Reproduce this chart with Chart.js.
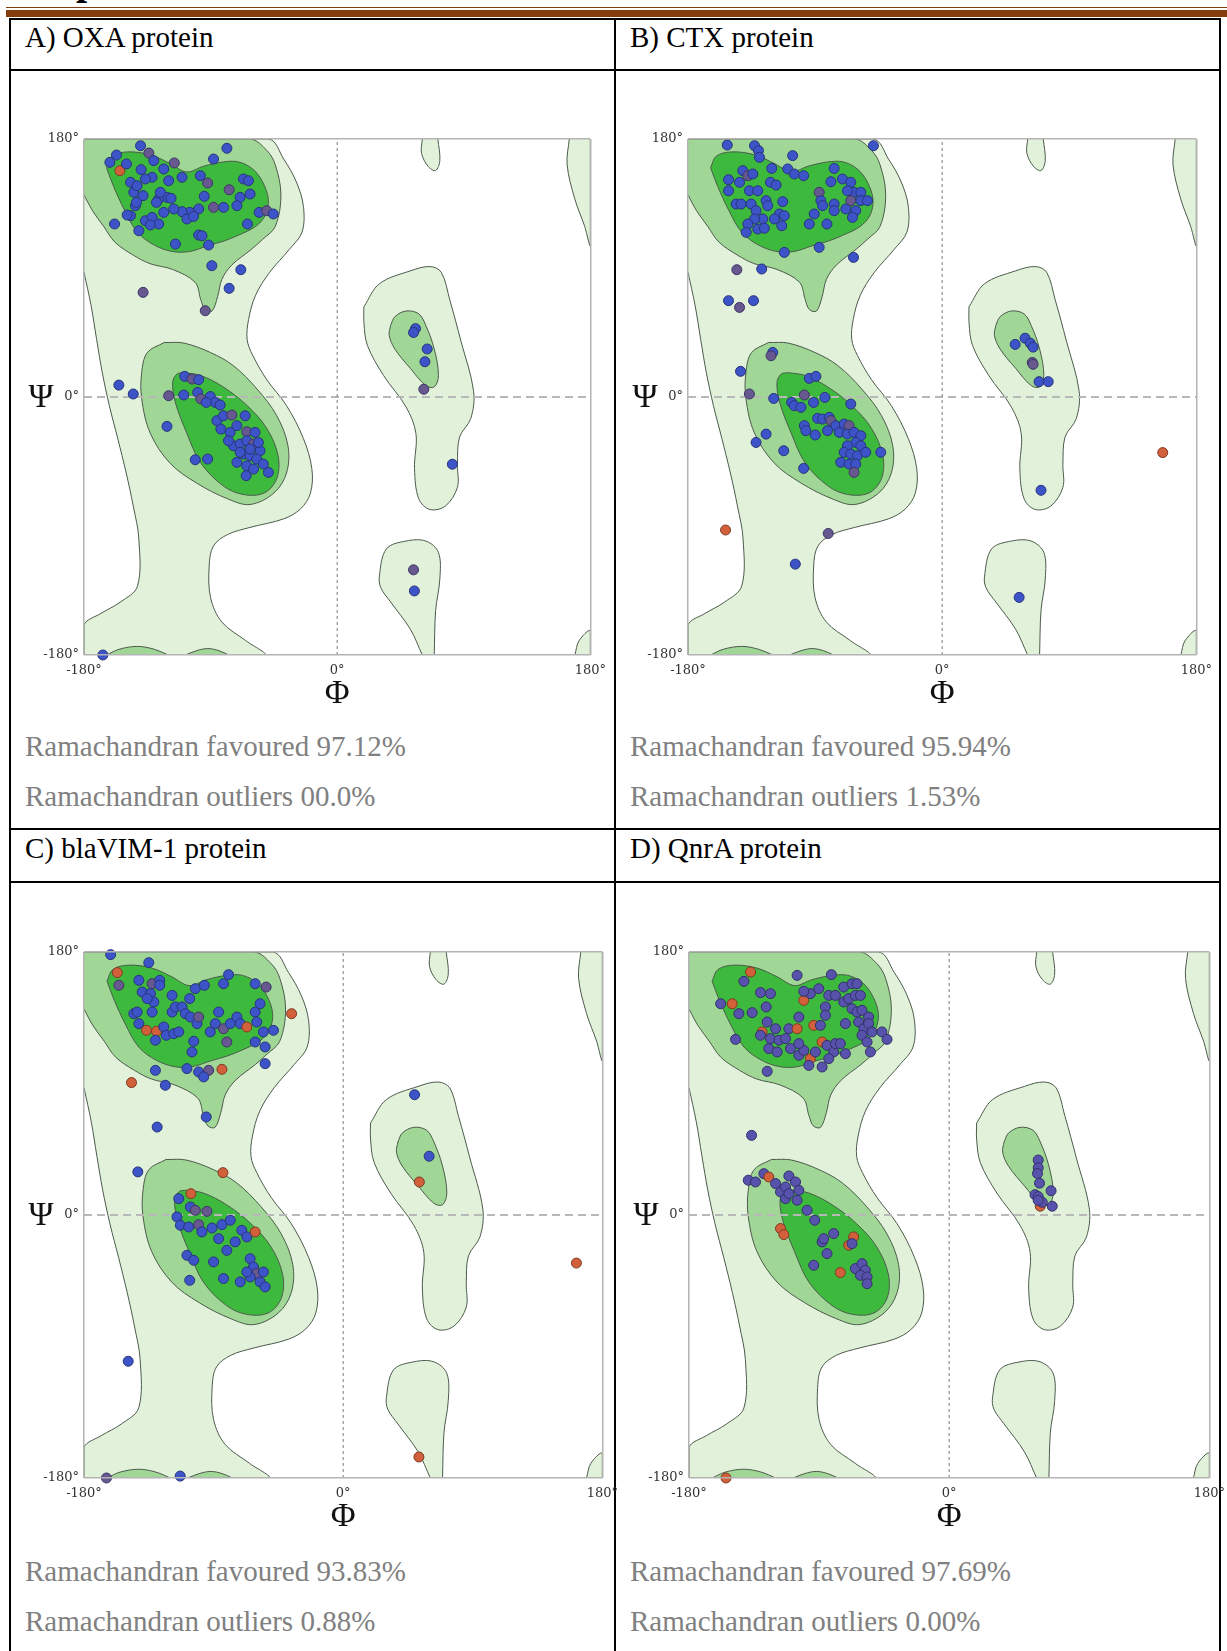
<!DOCTYPE html>
<html>
<head>
<meta charset="utf-8">
<script src="https://cdn.jsdelivr.net/npm/chart.js@4.4.1/dist/chart.umd.min.js"></script>
<style>
  html, body { margin: 0; padding: 0; background: #fff; overflow: hidden; }
  body { width: 1227px; height: 1651px; position: relative; font-family: "Liberation Serif", "Times New Roman", serif; }
  .rule { position: absolute; background: #843c0c; }
  .ln { position: absolute; background: #000; }
  .txt { position: absolute; font-size: 29px; line-height: 29px; white-space: nowrap; color: #000; }
  .stat { color: #808080; }
  .cut { position: absolute; left: 76px; top: -39px; font-size: 40px; line-height: 40px; font-weight: bold; }
  canvas { position: absolute; }
</style>
</head>
<body>
<!-- bottom of the heading above the table, cut off by the page edge -->
<div class="cut">p</div>
<!-- page rules + table grid -->
<div class="rule" style="left:6px;top:7px;width:1221px;height:1px"></div>
<div class="rule" style="left:6px;top:10px;width:1221px;height:7px"></div>
<div class="ln" style="left:9px;top:18px;width:1212px;height:2px"></div>
<div class="ln" style="left:9px;top:69px;width:1212px;height:2px"></div>
<div class="ln" style="left:9px;top:828px;width:1212px;height:2px"></div>
<div class="ln" style="left:9px;top:881px;width:1212px;height:2px"></div>
<div class="ln" style="left:9px;top:18px;width:2px;height:1633px"></div>
<div class="ln" style="left:614px;top:18px;width:2px;height:1633px"></div>
<div class="ln" style="left:1219px;top:18px;width:2px;height:1633px"></div>

<div class="txt" style="left:25px;top:23px">A) OXA protein</div>
<div class="txt" style="left:630px;top:23px">B) CTX protein</div>
<div class="txt stat" style="left:25px;top:732px">Ramachandran favoured 97.12%</div>
<div class="txt stat" style="left:25px;top:782px">Ramachandran outliers 00.0%</div>
<div class="txt stat" style="left:630px;top:732px">Ramachandran favoured 95.94%</div>
<div class="txt stat" style="left:630px;top:782px">Ramachandran outliers 1.53%</div>

<div class="txt" style="left:25px;top:834px">C) blaVIM-1 protein</div>
<div class="txt" style="left:630px;top:834px">D) QnrA protein</div>
<div class="txt stat" style="left:25px;top:1557px">Ramachandran favoured 93.83%</div>
<div class="txt stat" style="left:25px;top:1607px">Ramachandran outliers 0.88%</div>
<div class="txt stat" style="left:630px;top:1557px">Ramachandran favoured 97.69%</div>
<div class="txt stat" style="left:630px;top:1607px">Ramachandran outliers 0.00%</div>

<canvas id="oxa"></canvas>
<canvas id="ctx"></canvas>
<canvas id="vim"></canvas>
<canvas id="qnr"></canvas>

<script>
// ---- axis ticks ----
const TICKS = [-180, 0, 180];
const TICK_LABELS = ['-180°', '0°', '180°'];

// ---- Ramachandran contour outlines, [phi, psi] ----
const outerGeneral = [[-180,180],[-49,180],[-38,166],[-29,150],[-24,133],[-25,115],[-34,103],[-48,87],[-58,71],[-63,54],[-64,40],[-60,29],[-50,12],[-36,-6],[-24,-29],[-18,-50],[-19,-67],[-26,-78],[-38,-85],[-62,-91],[-78,-96],[-88,-104],[-91,-118],[-90,-140],[-82,-157],[-65,-170],[-52,-180],[-180,-180],[-180,-159],[-168,-151],[-154,-143],[-142,-132],[-141,-99],[-145,-76],[-150,-53],[-156,-29],[-162,-6],[-167,17],[-171,40],[-175,64],[-180,87]];
const outerLeftHanded = [[19,63],[30,79],[52,88],[66,91],[74,87],[80,68],[88,39],[97,4],[95,-15],[87,-28],[85.5,-47],[85.5,-63],[77,-76],[66,-78.5],[58,-71],[55,-50],[56,-25.5],[49,-7],[33,15],[21.5,36],[19,52],[19,63]];
const outerLowIsland = [[60.5,-180],[52,-162],[38,-143],[31,-133],[30,-125],[35,-106],[49,-100.5],[63,-100.5],[72,-108.5],[73,-127],[70,-149],[69,-180]];
const outerTopIsland = [[60.5,180],[60,170],[64.6,161],[70,158],[73,165],[71.6,180]];
const outerTopRight = [[165,180],[163.5,162],[169,138],[176,119],[180,106],[180,180]];
const outerBottomRight = [[169,-180],[172,-170],[180,-163],[180,-180]];

const allowedBeta = [[-180,180],[-62,180],[-50,172],[-44,162],[-40,141],[-44,119],[-53,110],[-61,103],[-75,92],[-82,82],[-85,70],[-89,60],[-94,61],[-97,68],[-101,80],[-117,89],[-133,93],[-145,99],[-158,108],[-166,119],[-174,130],[-180,141]];
const allowedBetaWrapA = [[-164,-180],[-155,-176],[-142,-174],[-130,-176],[-120,-180]];
const allowedBetaWrapB = [[-108,-180],[-100,-177],[-92,-175.5],[-84,-177],[-77,-180]];
const allowedAlpha = [[-123,38],[-109,37.6],[-90,31],[-74,22],[-57,5.6],[-43,-13],[-35,-34],[-36,-53],[-45,-67],[-62,-75],[-78,-71],[-100,-60],[-119,-46],[-133,-25],[-139,-1],[-139,17],[-135,31],[-123,38]];
const allowedLeftHanded = [[38,50],[41,56],[49,60],[58,58],[63,50],[69,33.5],[72,15],[69,7],[63,8],[52,20],[41,33.5],[37,43],[38,50]];

const favouredBeta = [[-164,160],[-160,168],[-149,171],[-133,169],[-119,163],[-107,157],[-95,161],[-81,164],[-70,164],[-60,159],[-53,150],[-49,138],[-51,127],[-58,119],[-70,113],[-80,109],[-92,105.5],[-105,101.5],[-117,101.5],[-130,106],[-142,115],[-151,130],[-159,147],[-164,160]];
const favouredAlpha = [[-109,17],[-97,15],[-81,7],[-64,-6],[-50,-22],[-42,-41],[-43,-57],[-52,-67],[-67,-68],[-81,-62],[-97,-46],[-107,-25],[-115,-4],[-117,10],[-114,16],[-109,17]];

// ---- residues per protein: [phi, psi, kind] ----
const oxaResidues = [
  [-139.8,175.3,'b'],[-133.9,170.2,'p'],[-156.9,168.8,'b'],[-161.6,163.7,'b'],[-154.5,157.9,'r'],[-149.8,162.6,'b'],[-130.4,164.9,'b'],[-123.3,159.1,'b'],[-115.8,163.3,'p'],[-139.4,158.6,'b'],
  [-131.6,153.3,'b'],[-119.8,150.9,'b'],[-110.3,153.3,'b'],[-97.3,154.4,'b'],[-92.1,149.3,'p'],[-78.4,173.5,'b'],[-87.9,166,'b'],[-66.6,152.1,'b'],[-63.1,150.9,'b'],[-76.8,144.6,'p'],
  [-61.9,141.6,'b'],[-69,139.3,'b'],[-55.5,128.8,'b'],[-50.1,130,'p'],[-45.4,127.7,'b'],[-63.8,120.7,'b'],[-71.3,133.5,'b'],[-80.8,132.3,'b'],[-87.9,132.3,'p'],[-94.5,140,'b'],
  [-98.5,131.2,'b'],[-104.9,128.8,'b'],[-110.3,129.3,'b'],[-116.2,131.2,'b'],[-121,139.3,'b'],[-118.1,138.6,'b'],[-126.9,138.1,'b'],[-128.5,135.8,'b'],[-123.3,128.8,'b'],[-126.9,120.7,'b'],
  [-136.3,123,'b'],[-141,116,'b'],[-146.9,126.5,'b'],[-149.3,127,'b'],[-143.4,133.5,'b'],[-142.7,135.8,'b'],[-138,140.5,'b'],[-144.6,142.8,'b'],[-146.9,149.8,'b'],[-142.2,147.4,'b'],
  [-136.3,152.1,'b'],[-158.3,120.7,'b'],[-115,106.7,'b'],[-98.5,113,'b'],[-96.1,112.5,'b'],[-91.4,106,'b'],[-106.8,124.2,'b'],[-102.1,126,'b'],[-131.6,125.3,'b'],[-132.8,120,'b'],
  [-125.7,142.8,'b'],[-89.1,91.6,'b'],[-68.5,88.8,'b'],[-76.8,75.8,'b'],[-138,73,'p'],[-93.8,60.2,'p'],
  [-108.4,14.4,'b'],[-103.2,12.5,'p'],[-98.5,12.1,'b'],[-99.2,3.2,'b'],[-109.1,1.4,'b'],[-119.8,0.9,'p'],[-145,2.1,'b'],[-155.2,8.3,'b'],[-121,-20.5,'b'],[-90.2,0.3,'b'],
  [-86.7,-3.8,'b'],[-83.2,-5.6,'b'],[-96.9,-1.4,'p'],[-93.1,-3.8,'b'],[-85.5,-16.5,'b'],[-80.8,-13.1,'b'],[-74.9,-12.6,'p'],[-65.4,-13.1,'b'],[-82.7,-22.4,'b'],[-76.1,-24.7,'b'],
  [-71.3,-20,'b'],[-64.3,-24.2,'p'],[-58.4,-24.7,'b'],[-73.7,-34,'b'],[-69,-32.8,'b'],[-64.3,-30.5,'b'],[-59.5,-32.8,'p'],[-54.8,-37.5,'b'],[-66.6,-39.8,'b'],[-61.9,-41,'b'],
  [-57.2,-43.3,'b'],[-71.3,-45.6,'b'],[-64.3,-48,'b'],[-59.5,-50.3,'b'],[-64.7,-54.9,'b'],[-48.9,-52.6,'b'],[-52.5,-46.8,'b'],[-100.9,-43.8,'b'],[-92.1,-43.3,'b'],[-77.3,-30.5,'b'],
  [-69,-38.6,'b'],[-61.9,-36.3,'b'],[-56,-31.7,'b'],
  [55.7,47.7,'b'],[54.3,45,'b'],[64,33.5,'b'],[62.4,24.6,'b'],[61.6,5.4,'p'],[81.9,-46.9,'b'],[54.3,-120.6,'p'],[54.9,-135.3,'b'],[-166.6,-180,'b']
];

const ctxResidues = [
  [-152.2,175.8,'b'],[-132.9,175.3,'b'],[-130.1,171.9,'b'],[-129.4,167.2,'b'],[-105.9,168.4,'b'],[-48.7,175.3,'b'],[-141.2,157.9,'b'],[-137.6,154.4,'p'],[-134.1,155.6,'b'],[-151.3,151.6,'b'],
  [-143.5,149.8,'b'],[-151.3,143.9,'b'],[-136.5,143.9,'b'],[-130.6,143.9,'b'],[-120.7,159.5,'b'],[-121.6,149.8,'b'],[-117.6,147.9,'b'],[-109.4,159.1,'b'],[-104.7,155.6,'b'],[-98.1,154.4,'b'],
  [-76.5,159.5,'b'],[-70.6,152.1,'b'],[-64.7,149.8,'b'],[-78.8,150.2,'b'],[-62.4,142.8,'b'],[-57.6,142.8,'b'],[-67.1,143.9,'b'],[-87.1,142.8,'p'],[-85.9,137,'b'],[-84.7,133.5,'b'],
  [-76.5,134.6,'b'],[-68.2,131.2,'b'],[-64.7,137,'p'],[-57.6,137,'b'],[-52.9,137,'b'],[-61.2,130,'b'],[-63.5,125.3,'b'],[-76.5,130,'b'],[-90.6,127.7,'b'],[-94.1,120.7,'b'],
  [-81.6,120.7,'b'],[-145.9,134.6,'b'],[-142.4,134.6,'b'],[-135.3,134.6,'b'],[-131.8,130,'b'],[-124.7,137,'b'],[-123.5,133.5,'b'],[-112.9,136.3,'b'],[-115.3,127.7,'b'],[-111.8,126.5,'b'],
  [-118.8,124.2,'b'],[-127.1,124.2,'b'],[-132.9,124.2,'b'],[-137.6,120.7,'b'],[-138.8,114.9,'b'],[-130.6,117.2,'b'],[-125.9,117.7,'b'],[-113.6,119.5,'b'],[-111.8,100.9,'b'],[-87.1,104.4,'b'],
  [-62.8,97.4,'b'],[-127.8,89.3,'b'],[-145.4,88.8,'p'],[-151.3,67.2,'b'],[-143.5,62.5,'p'],[-133.6,67.2,'b'],
  [-120,31.1,'b'],[-121.2,28.8,'p'],[-142.8,17.9,'b'],[-136.5,2.1,'p'],[-119.3,-1,'b'],[-94.1,13,'b'],[-89.4,14.4,'b'],[-97.6,1.4,'p'],[-106.6,-3.8,'b'],[-104.7,-6.1,'b'],
  [-100,-7.2,'b'],[-91.1,-3.8,'b'],[-83.1,-0.3,'b'],[-64.7,-4.9,'b'],[-88.2,-14.9,'b'],[-84.7,-15.4,'b'],[-80,-14.2,'b'],[-78.8,-16.5,'p'],[-75.3,-20,'b'],[-69.4,-18.9,'b'],
  [-65.9,-20,'p'],[-72.9,-24.7,'b'],[-67.1,-25.9,'b'],[-62.4,-24.7,'b'],[-57.6,-27,'b'],[-97.6,-20,'b'],[-96.5,-23.5,'b'],[-89.9,-26.5,'b'],[-81.2,-23.5,'b'],[-61.2,-31.7,'b'],
  [-57.6,-34,'b'],[-67.1,-34,'b'],[-69.4,-38.6,'b'],[-64.7,-39.8,'b'],[-60,-41,'b'],[-54.1,-38.6,'b'],[-43.5,-38.6,'b'],[-71.8,-45.6,'b'],[-65.9,-46.8,'b'],[-61.2,-46.8,'b'],
  [-62.4,-52.6,'p'],[-112.2,-37.5,'b'],[-124.7,-25.9,'b'],[-131.8,-31.7,'b'],[-98.1,-49.8,'b'],
  [-153.4,-92.8,'r'],[-80.7,-95.2,'p'],[-104,-116.6,'b'],
  [51.7,36.7,'b'],[58.7,41,'b'],[62.4,37.5,'b'],[64.4,34.8,'b'],[63.8,24.1,'p'],[64.4,22.8,'p'],[68.6,10.7,'b'],[75.1,10.7,'b'],[70,-65.1,'b'],[54.5,-139.8,'b'],[156.2,-38.8,'r']
];

const vimResidues = [
  [-161.5,178.2,'b'],[-135,172.7,'b'],[-156.9,165.9,'r'],[-155.8,157.2,'p'],[-141.9,160.6,'b'],[-132.7,158.3,'p'],[-127.4,160.6,'b'],[-127.4,157.2,'b'],[-139.6,152.6,'b'],[-133.8,151.5,'b'],
  [-131.5,145.8,'b'],[-136.1,148.1,'b'],[-145.4,137.8,'b'],[-143.1,138.9,'b'],[-132.7,138.9,'b'],[-141.9,131,'b'],[-136.6,126.4,'r'],[-129.7,125.7,'r'],[-130.4,119.6,'b'],[-124.6,128.7,'b'],
  [-122.8,123,'b'],[-117.7,124.1,'b'],[-114.2,125.3,'b'],[-118.8,138.9,'b'],[-116.5,142.4,'b'],[-118.8,150.3,'b'],[-111.9,142.4,'b'],[-106.6,148.1,'b'],[-109.6,137.8,'b'],[-106.1,135.5,'b'],
  [-101.5,131,'b'],[-100.4,135.5,'p'],[-102.7,154.9,'b'],[-96.4,157.2,'b'],[-92.3,125.3,'b'],[-88.8,131,'b'],[-86.5,138.9,'b'],[-83.1,158.3,'b'],[-79.6,164.5,'b'],[-83.1,127.5,'p'],
  [-80.8,118.4,'p'],[-78.4,131,'b'],[-73.8,135.5,'b'],[-71.5,131,'b'],[-66.9,128.7,'r'],[-61.1,158.3,'b'],[-53.5,156,'p'],[-61.1,138.9,'b'],[-57.7,144.6,'b'],[-60,132.1,'b'],
  [-55.4,125.3,'b'],[-48.4,126.4,'b'],[-61.1,118.4,'b'],[-54.2,115,'b'],[-103.8,118.9,'b'],[-105,111.6,'b'],[-108.5,100.2,'b'],[-100.4,97.9,'b'],[-93.4,99,'p'],[-96.9,94.5,'b'],
  [-84.2,99.7,'r'],[-54.2,103.6,'b'],[-130.4,99,'b'],[-123.5,88.8,'b'],[-147,90.6,'r'],[-95.1,67.1,'b'],[-129.2,60.2,'b'],[-35.8,137.8,'r'],
  [-142.6,29.5,'b'],[-83.5,29,'r'],[-105.7,14.6,'r'],[-114.2,11.2,'b'],[-106.1,5.5,'b'],[-102.7,3.2,'p'],[-94.6,2.5,'p'],[-115.4,-1.3,'b'],[-113.1,-7,'b'],[-107.3,-8.2,'b'],
  [-100.4,-6.6,'p'],[-98.1,-11.6,'b'],[-91.1,-8.9,'b'],[-84.2,-6.6,'b'],[-78.4,-3.6,'b'],[-86.5,-16.2,'b'],[-80.8,-24.2,'b'],[-75,-18.4,'b'],[-70.4,-10.5,'b'],[-66.9,-15,'b'],
  [-61.1,-11.6,'r'],[-108.5,-27.6,'b'],[-103.8,-31,'b'],[-90,-32.1,'b'],[-83.1,-43.5,'b'],[-71.5,-45.8,'b'],[-64.6,-29.9,'b'],[-62.3,-35.6,'b'],[-60,-40.1,'p'],[-64.6,-42.4,'b'],
  [-57.7,-45.8,'b'],[-55.4,-39,'b'],[-54.2,-49.2,'b'],[-66.9,-39,'b'],[-106.6,-44.7,'b'],[-149.3,-100.1,'b'],
  [49.6,82.3,'b'],[59.7,40.2,'b'],[52.9,22.6,'r'],[162,-32.9,'r'],[52.6,-165.6,'r'],[-164.4,-180,'p'],[-113.2,-178.7,'b']
];

const qnrResidues = [
  [-137.4,166.3,'r'],[-142,159.9,'v'],[-158.1,144.6,'v'],[-150.1,144.6,'r'],[-145.5,137.8,'v'],[-136.3,138.5,'v'],[-130.5,152.2,'v'],[-123.6,151.5,'v'],[-126.6,142.4,'v'],[-147.8,120.2,'v'],
  [-105.2,164,'v'],[-81.5,164.5,'v'],[-104,135.5,'v'],[-100.6,146.9,'r'],[-96,151.5,'v'],[-90.2,154.9,'v'],[-83.3,150.3,'v'],[-100.6,153.1,'v'],[-85.6,142.4,'v'],[-85.6,136.7,'v'],
  [-93.7,129.8,'r'],[-89.1,129.8,'v'],[-73,156,'v'],[-67.2,158.3,'v'],[-63.8,158.3,'v'],[-78.7,150.3,'v'],[-73,145.8,'v'],[-69.5,148.1,'v'],[-64.9,150.3,'v'],[-61.4,150.3,'v'],
  [-67.2,141.2,'v'],[-63.8,138.9,'v'],[-60.3,140.1,'v'],[-55.7,135.5,'v'],[-62.6,132.1,'v'],[-59.1,127.5,'v'],[-55.7,131,'v'],[-53.4,125.3,'v'],[-71.8,131,'v'],[-60.3,123,'v'],
  [-56.8,118.4,'v'],[-54.5,111.6,'v'],[-46.5,125.3,'v'],[-43,120.2,'v'],[-129.4,125.3,'r'],[-125.9,132.1,'v'],[-130.5,123,'v'],[-123.6,120.7,'v'],[-117.8,119.6,'v'],[-120.1,127.5,'v'],
  [-110.9,127.5,'v'],[-105.2,127.5,'r'],[-113.2,120.7,'v'],[-109.8,113.9,'v'],[-124.8,113.9,'v'],[-119,111.6,'v'],[-104,109.3,'v'],[-100.6,112.7,'v'],[-96,107,'r'],[-92.5,111.6,'v'],
  [-87.9,118.4,'r'],[-84.5,116.1,'v'],[-79.9,111.6,'v'],[-78.7,117.3,'v'],[-75.3,117.3,'v'],[-71.8,110.4,'v'],[-83.3,107,'v'],[-97.1,102.4,'v'],[-87.9,101.3,'v'],[-104,117.3,'v'],
  [-125.9,98.3,'v'],[-136.7,54.5,'v'],
  [-139,23.8,'v'],[-134,22.6,'v'],[-128.2,28.3,'v'],[-124.8,26,'r'],[-120.1,21.5,'v'],[-116.7,15.8,'v'],[-113.2,19.2,'v'],[-110.9,26.7,'v'],[-106.3,22.6,'v'],[-104,16.9,'v'],
  [-113.2,11.2,'v'],[-110.9,14.6,'v'],[-105.2,10.1,'v'],[-98.3,3.2,'v'],[-93,-3.6,'v'],[-116.7,-9.3,'r'],[-114.4,-13.4,'r'],[-87.9,-18.4,'v'],[-84.5,-26.4,'v'],[-86.8,-16.2,'v'],
  [-79.9,-12.7,'v'],[-66.1,-15,'r'],[-69.5,-20.7,'r'],[-67.2,-19.6,'v'],[-93.7,-34.4,'v'],[-75.3,-39.4,'r'],[-64.9,-36.7,'v'],[-60.3,-33.3,'v'],[-58,-37.8,'v'],[-61.4,-41.3,'v'],
  [-56.8,-42.4,'v'],[-56.8,-47,'v'],
  [63,6,'r'],[61.6,37.6,'v'],[61.6,32.3,'v'],[61.1,28.4,'v'],[62.5,21.8,'v'],[59.4,13.9,'v'],[61.6,12.6,'v'],[64.4,8.7,'v'],[70.5,16.6,'v'],[71.3,6,'v'],[61.6,10,'v'],[-154.4,-180,'r']
];

/* ──────────────────────────────────────────────
   Styling
   ────────────────────────────────────────────── */
const FILL = { b: '#3d53c8', p: '#67588f', r: '#d2603a', v: '#5752ac' };
const EDGE = { b: '#28357a', p: '#3d3566', r: '#7d3a22', v: '#34306a' };
const LIGHT = '#e2f2da', MEDIUM = '#a0d796', DARK = '#3dba3d';
const OUTLINE = '#4c5a4c';

function region(pts, color, order) {
  return {
    data: pts.map(([x, y]) => ({ x, y })),
    showLine: true,
    fill: 'shape',
    backgroundColor: color,
    borderColor: OUTLINE,
    borderWidth: 1,
    pointRadius: 0,
    tension: 0.35,
    order,
  };
}

function zeroLine(pts, dash, color, width) {
  return {
    data: pts.map(([x, y]) => ({ x, y })),
    showLine: true,
    fill: false,
    borderColor: color,
    borderWidth: width,
    borderDash: dash,
    pointRadius: 0,
    order: 1,
  };
}

// Ψ is drawn upright beside the 0° tick (Chart.js rotates y titles)
const psiLabel = {
  id: 'psiLabel',
  afterDraw(chart) {
    const { ctx, chartArea, scales } = chart;
    ctx.save();
    ctx.font = '34px "Liberation Serif", serif';
    ctx.fillStyle = '#111';
    ctx.textAlign = 'center';
    ctx.textBaseline = 'middle';
    ctx.fillText('Ψ', chartArea.left - 43, scales.y.getPixelForValue(0) + 1);
    ctx.restore();
  },
};

function axis(extra) {
  return {
    type: 'linear',
    min: -180,
    max: 180,
    afterBuildTicks: (s) => { s.ticks = TICKS.map((v) => ({ value: v })); },
    // the ±180 grid lines form the frame; 0 is drawn as a dashed dataset
    grid: {
      z: 1,
      drawTicks: false,
      lineWidth: 1.5,
      color: (c) => (c.tick && c.tick.value === 0 ? 'rgba(0,0,0,0)' : '#b4b4b4'),
    },
    border: { display: false },
    ...extra,
  };
}

function drawPlot(id, residues, box) {
  const padTop = 14, padRight = 22, yW = 60, xH = 59;
  const canvas = document.getElementById(id);
  canvas.width = yW + box.w + padRight;
  canvas.height = padTop + box.h + xH;
  canvas.style.left = (box.left - yW) + 'px';
  canvas.style.top = (box.top - padTop) + 'px';

  const datasets = [
    {
      data: residues.map(([x, y, k]) => ({ x, y, k })),
      pointRadius: 5,
      borderWidth: 1,
      backgroundColor: (c) => FILL[c.raw ? c.raw.k : 'b'],
      borderColor: (c) => EDGE[c.raw ? c.raw.k : 'b'],
      clip: false,
      order: 0,
    },
    zeroLine([[0, -180], [0, 180]], [3, 3], '#7a7a7a', 1),
    zeroLine([[-180, 0], [180, 0]], [8, 5], '#b8b8b8', 2),
    region(favouredBeta, DARK, 2),
    region(favouredAlpha, DARK, 2),
    region(allowedBeta, MEDIUM, 3),
    region(allowedBetaWrapA, MEDIUM, 3),
    region(allowedBetaWrapB, MEDIUM, 3),
    region(allowedAlpha, MEDIUM, 3),
    region(allowedLeftHanded, MEDIUM, 3),
    region(outerGeneral, LIGHT, 4),
    region(outerLeftHanded, LIGHT, 4),
    region(outerLowIsland, LIGHT, 4),
    region(outerTopIsland, LIGHT, 4),
    region(outerTopRight, LIGHT, 4),
    region(outerBottomRight, LIGHT, 4),
  ];

  const tickFont = { family: '"DejaVu Serif", serif', size: 13 };
  const tickLabel = (v) => TICK_LABELS[TICKS.indexOf(v)];

  return new Chart(canvas, {
    type: 'scatter',
    data: { datasets },
    options: {
      responsive: false,
      animation: false,
      events: [],
      layout: { padding: { top: padTop, right: padRight, left: 0, bottom: 0 } },
      plugins: { legend: { display: false }, tooltip: { enabled: false } },
      scales: {
        x: axis({
          ticks: { autoSkip: false, maxRotation: 0, padding: 8, color: '#333', font: tickFont, callback: tickLabel },
          title: { display: true, text: 'Φ', color: '#111', padding: 0, font: { family: '"Liberation Serif", serif', size: 34 } },
          afterFit: (s) => { s.height = xH; },
        }),
        y: axis({
          ticks: { autoSkip: false, padding: 5, color: '#333', font: tickFont, callback: tickLabel },
          afterFit: (s) => { s.width = yW; },
        }),
      },
    },
    plugins: [psiLabel],
  });
}

drawPlot('oxa', oxaResidues, { left: 84, top: 139, w: 508, h: 516 });
drawPlot('ctx', ctxResidues, { left: 688, top: 139, w: 510, h: 516 });
drawPlot('vim', vimResidues, { left: 84, top: 952, w: 520, h: 526 });
drawPlot('qnr', qnrResidues, { left: 689, top: 952, w: 522, h: 526 });
</script>
</body>
</html>
